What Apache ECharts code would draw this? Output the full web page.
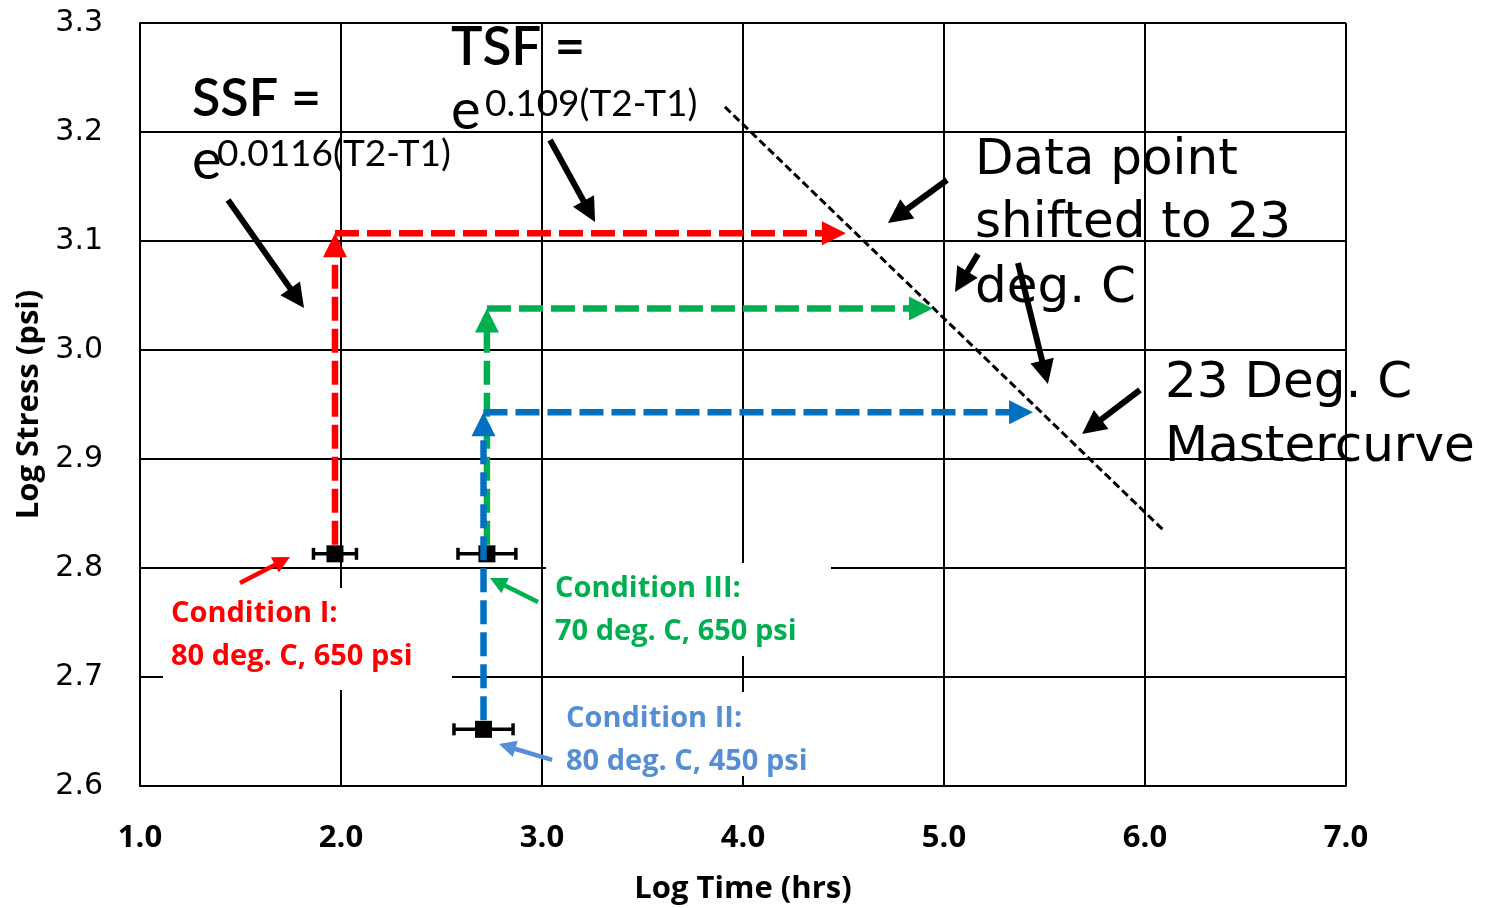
<!DOCTYPE html>
<html>
<head>
<meta charset="utf-8">
<script src="https://cdn.jsdelivr.net/npm/echarts@6/dist/echarts.min.js"></script>
<style>
html,body{margin:0;padding:0;background:#ffffff;}
#chart{width:1490px;height:908px;}
</style>
</head>
<body>
<div id="chart"></div>
<script>
// ---------------- DATA ----------------
const xTickValues = [1.0, 2.0, 3.0, 4.0, 5.0, 6.0, 7.0];
const yTickValues = [2.6, 2.7, 2.8, 2.9, 3.0, 3.1, 3.2, 3.3];

// test conditions: Condition I, Condition II, Condition III
const conditionNames = ['Condition I', 'Condition II', 'Condition III'];
const logTime      = [1.970, 2.709, 2.726];   // log time (hrs) of data point
const logStress    = [2.813, 2.652, 2.813];   // log stress (psi) of data point
const logTimeError = [0.107, 0.147, 0.144];   // +/- error on log time

// shifted (23 deg. C) positions
const shiftedStress = [3.107, 2.943, 3.038];  // after stress shift factor
const shiftedTime   = [4.512, 5.443, 4.945];  // after time shift factor

// 23 deg. C mastercurve (dashed line end points)
const masterTime   = [3.910, 6.090];
const masterStress = [3.223, 2.835];

// annotation arrows (from log time, from log stress, to log time, to log stress)
const blackArrowFromTime   = [1.438, 3.040, 5.015, 5.169, 5.368, 5.975];
const blackArrowFromStress = [3.1376, 3.1927, 3.156, 3.088, 3.0798, 2.9633];
const blackArrowToTime     = [1.816, 3.264, 4.721, 5.055, 5.517, 5.687];
const blackArrowToStress   = [3.0385, 3.1174, 3.1165, 3.0532, 2.9688, 2.9229];

// colored pointer arrows to the conditions (I, II, III)
const pointerFromTime   = [1.4975, 3.050, 2.980];
const pointerFromStress = [2.7862, 2.6239, 2.7688];
const pointerToTime     = [1.746, 2.786, 2.741];
const pointerToStress   = [2.8101, 2.6385, 2.7908];

// ---------------- STYLES ----------------
const condColors    = ['#FF0000', '#0070C0', '#00B050'];
const condTextColor = ['#FF0000', '#558ED5', '#00B050'];
const boldFont = "'Open Sans', 'Liberation Sans', sans-serif";
const eqFont = "Lato, 'Open Sans', sans-serif";
const plainFont = "'DejaVu Sans', sans-serif";

function arrowGroup(p1, p2, st) {
  let dx = p2[0] - p1[0], dy = p2[1] - p1[1];
  const L = Math.hypot(dx, dy);
  const ux = dx / L, uy = dy / L;
  const s = [p1[0] + ux * (st.startGap || 0), p1[1] + uy * (st.startGap || 0)];
  const base = [p2[0] - ux * st.headLen, p2[1] - uy * st.headLen];
  const hw = st.headWidth / 2;
  const left = [base[0] - uy * hw, base[1] + ux * hw];
  const right = [base[0] + uy * hw, base[1] - ux * hw];
  const children = [];
  children.push({
    type: 'line',
    shape: {x1: s[0], y1: s[1], x2: base[0] + ux * 1.5, y2: base[1] + uy * 1.5},
    style: {stroke: st.color, lineWidth: st.lineWidth, lineDash: st.lineDash || null, lineCap: 'butt'}
  });
  children.push({
    type: 'polygon',
    shape: {points: [p2, left, right]},
    style: {fill: st.color}
  });
  return {type: 'group', children};
}

function arrowSeries(name, data, st, z) {
  return {
    type: 'custom',
    name: name,
    coordinateSystem: 'cartesian2d',
    clip: false,
    z: z,
    silent: true,
    encode: {x: [0, 2], y: [1, 3]},
    data: data,
    renderItem: function (params, api) {
      const p1 = api.coord([api.value(0), api.value(1)]);
      const p2 = api.coord([api.value(2), api.value(3)]);
      const s = Object.assign({}, st);
      s.startGap = api.value(4) === 1 ? st.vStartGap : 0;
      return arrowGroup(p1, p2, s);
    }
  };
}

const series = [];

// mastercurve dashed line
series.push({
  type: 'line',
  name: '23 Deg. C Mastercurve',
  data: masterTime.map((t, i) => [t, masterStress[i]]),
  symbol: 'none',
  z: 2,
  lineStyle: {color: '#000', width: 3, type: [8, 4], opacity: 1},
  silent: true
});

// data point markers
series.push({
  type: 'scatter',
  name: 'Data',
  data: logTime.map((t, i) => [t, logStress[i]]),
  symbol: 'rect',
  symbolSize: 17,
  itemStyle: {color: '#000', opacity: 1},
  z: 3,
  silent: true
});

// error bars
series.push({
  type: 'custom',
  name: 'Error',
  coordinateSystem: 'cartesian2d',
  z: 3,
  silent: true,
  data: logTime.map((t, i) => [t, logStress[i], logTimeError[i]]),
  encode: {x: 0, y: 1},
  renderItem: function (params, api) {
    const x = api.value(0), y = api.value(1), e = api.value(2);
    const a = api.coord([x - e, y]), b = api.coord([x + e, y]);
    const st = {stroke: '#000', lineWidth: 3.5};
    return {type: 'group', children: [
      {type: 'line', shape: {x1: a[0], y1: a[1], x2: b[0], y2: b[1]}, style: st},
      {type: 'line', shape: {x1: a[0], y1: a[1] - 6, x2: a[0], y2: a[1] + 6}, style: st},
      {type: 'line', shape: {x1: b[0], y1: b[1] - 6, x2: b[0], y2: b[1] + 6}, style: st}
    ]};
  }
});

// dashed shift arrows: drawn in order III (green), I (red), II (blue)
[2, 0, 1].forEach(function (i, k) {
  const data = [
    [logTime[i], logStress[i], logTime[i], shiftedStress[i], 1],
    [logTime[i], shiftedStress[i], shiftedTime[i], shiftedStress[i], 0]
  ];
  series.push(arrowSeries(conditionNames[i] + ' shift', data, {
    color: condColors[i], lineWidth: 6.5, lineDash: [24, 8], headLen: 24, headWidth: 24, vStartGap: 9
  }, 4 + k));
});

// black annotation arrows
series.push(arrowSeries('Annotation arrows',
  blackArrowFromTime.map((t, i) => [t, blackArrowFromStress[i], blackArrowToTime[i], blackArrowToStress[i], 0]),
  {color: '#000', lineWidth: 6, headLen: 24, headWidth: 24}, 8));

// colored pointer arrows
[0, 1, 2].forEach(function (i) {
  series.push(arrowSeries(conditionNames[i] + ' pointer',
    [[pointerFromTime[i], pointerFromStress[i], pointerToTime[i], pointerToStress[i], 0]],
    {color: i === 1 ? '#558ED5' : condColors[i], lineWidth: 4.5, headLen: 17, headWidth: 17}, 8));
});

// ---------------- TEXT ----------------
function txt(text, x, y, font, size, weight, color) {
  return {
    type: 'text', z: 100, silent: true,
    style: {text: text, x: x, y: y, fill: color || '#000', fontFamily: font, fontSize: size,
            fontWeight: weight || 'normal', verticalAlign: 'middle', align: 'left'}
  };
}
function box(x, y, w, h) {
  return {type: 'rect', z: 1, silent: true, shape: {x: x, y: y, width: w, height: h}, style: {fill: '#fff'}};
}

const graphics = [
  box(163, 588, 289, 102),
  box(546, 563, 285, 93),
  box(555, 692, 276, 84),
  txt('SSF =', 192, 99, eqFont, 52, '600'),
  txt('e', 192, 161, eqFont, 56),
  txt('0.0116(T2-T1)', 217, 154, eqFont, 37),
  txt('TSF =', 451, 48, eqFont, 53, '600'),
  txt('e', 451, 111, eqFont, 56),
  txt('0.109(T2-T1)', 485, 104, eqFont, 37),
  txt('Data point', 975, 161, plainFont, 50),
  txt('shifted to 23', 975, 224, plainFont, 50),
  txt('deg. C', 975, 289, plainFont, 50),
  txt('23 Deg. C', 1165, 384, plainFont, 50),
  txt('Mastercurve', 1165, 448, plainFont, 50),
  txt('Condition I:', 171, 614, boldFont, 29, 'bold', condTextColor[0]),
  txt('80 deg. C, 650 psi', 171, 657, boldFont, 29, 'bold', condTextColor[0]),
  txt('Condition III:', 555, 589, boldFont, 29, 'bold', condTextColor[2]),
  txt('70 deg. C, 650 psi', 555, 632, boldFont, 29, 'bold', condTextColor[2]),
  txt('Condition II:', 566, 719, boldFont, 29, 'bold', condTextColor[1]),
  txt('80 deg. C, 450 psi', 566, 762, boldFont, 29, 'bold', condTextColor[1])
];

// ---------------- CHART ----------------
const chart = echarts.init(document.getElementById('chart'), null, {renderer: 'canvas'});
chart.setOption({
  backgroundColor: '#ffffff',
  animation: false,
  grid: {left: 140, right: 144, top: 23, bottom: 122, containLabel: false, outerBoundsMode: 'none'},
  xAxis: {
    type: 'value',
    min: xTickValues[0], max: xTickValues[xTickValues.length - 1], interval: 1,
    name: 'Log Time (hrs)', nameLocation: 'middle', nameGap: 88,
    nameTextStyle: {fontFamily: boldFont, fontWeight: 'bold', fontSize: 31, color: '#000'},
    axisLine: {show: true, onZero: false, lineStyle: {color: '#000', width: 2}},
    axisTick: {show: false},
    axisLabel: {margin: 37, fontFamily: boldFont, fontWeight: 'bold', fontSize: 31, color: '#000',
                formatter: v => v.toFixed(1)},
    splitLine: {show: true, lineStyle: {color: '#000', width: 2}}
  },
  yAxis: {
    type: 'value',
    min: yTickValues[0], max: yTickValues[yTickValues.length - 1], interval: 0.1,
    name: 'Log Stress (psi)', nameLocation: 'middle', nameGap: 94, nameRotate: 90,
    nameTextStyle: {fontFamily: boldFont, fontWeight: 'bold', fontSize: 31, color: '#000'},
    axisLine: {show: true, onZero: false, lineStyle: {color: '#000', width: 2}},
    axisTick: {show: false},
    axisLabel: {margin: 37, fontFamily: plainFont, fontSize: 30, color: '#000', padding: [6, 0, 0, 0],
                formatter: v => v.toFixed(1)},
    splitLine: {show: true, lineStyle: {color: '#000', width: 2}}
  },
  graphic: {elements: graphics},
  series: series
});
</script>
</body>
</html>
